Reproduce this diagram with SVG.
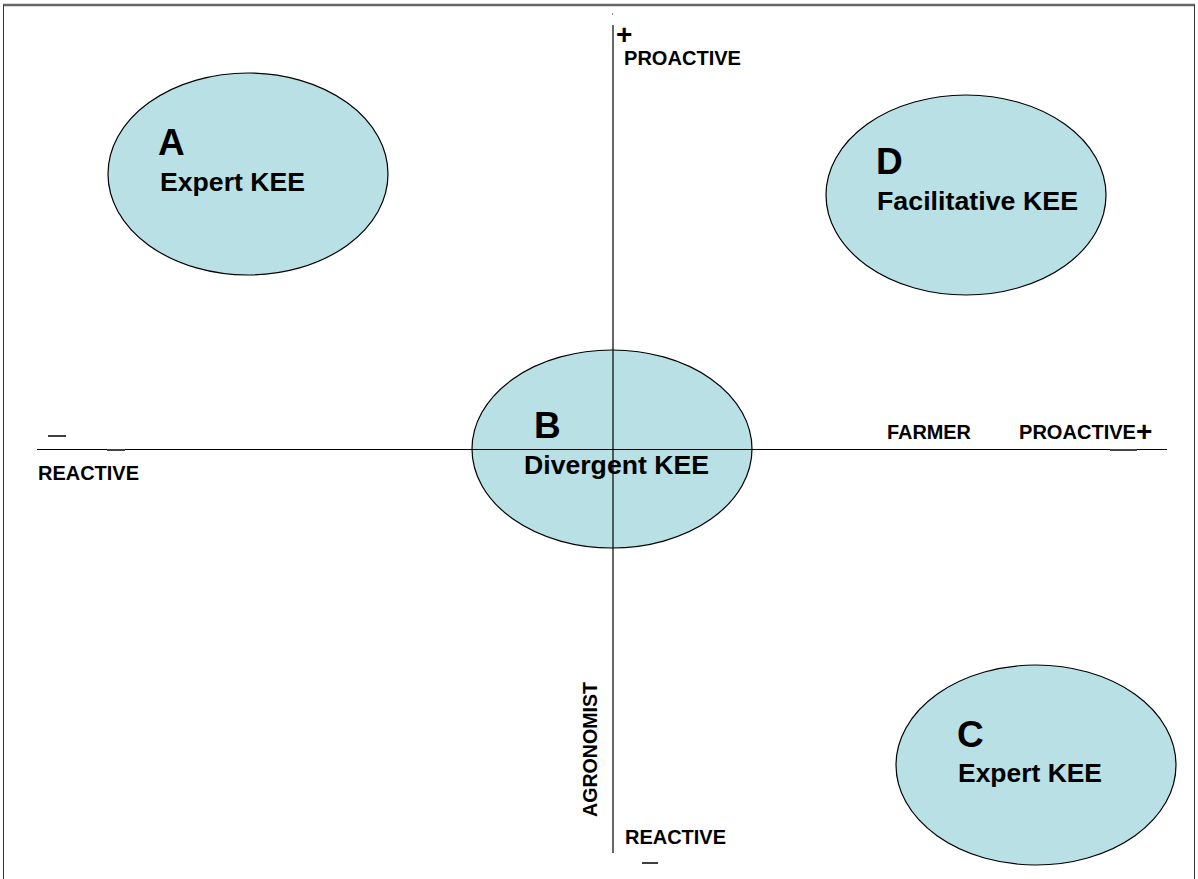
<svg xmlns="http://www.w3.org/2000/svg" width="1198" height="879" viewBox="0 0 1198 879">
<style>
.node{fill:#b9e0e4;stroke:#000;stroke-width:1.2}
.big{font-family:"Liberation Sans",Arial,sans-serif;font-weight:bold;font-size:37px;fill:#000}
.lab{font-family:"Liberation Sans",Arial,sans-serif;font-weight:bold;font-size:25px;fill:#000}
.ax{font-family:"Liberation Sans",Arial,sans-serif;font-weight:bold;font-size:19.5px;fill:#000}
.pl{font-family:"Liberation Sans",Arial,sans-serif;font-weight:bold;font-size:28px;fill:#000}
</style>
<rect width="1198" height="879" fill="#fff"/>
<g id="frame" fill="none">
<line x1="3" y1="5" x2="1195" y2="5" stroke="#666" stroke-width="2.5"/>
<line x1="3.5" y1="5" x2="3.5" y2="879" stroke="#333" stroke-width="1"/>
<line x1="1194.5" y1="5" x2="1194.5" y2="879" stroke="#333" stroke-width="1"/>
<rect x="612" y="13" width="1" height="2" fill="#888"/>
</g>
<g id="B"><ellipse class="node" cx="612" cy="449" rx="140" ry="99"/></g>
<g id="connectors" stroke="#000" stroke-width="1.2">
<line x1="613" y1="25" x2="613" y2="853"/>
<line x1="37" y1="449.5" x2="1167" y2="449.5"/>
<line x1="107" y1="450" x2="125" y2="450" stroke="#444" stroke-width="2"/>
<line x1="1110" y1="450" x2="1137" y2="450" stroke="#444" stroke-width="2"/>
</g>
<g id="A"><ellipse class="node" cx="248" cy="174" rx="140" ry="101"/>
<text class="big" x="158" y="155">A</text><text class="lab" x="160" y="191" textLength="145" lengthAdjust="spacingAndGlyphs">Expert KEE</text></g>
<g id="D"><ellipse class="node" cx="966" cy="195" rx="140" ry="100"/>
<text class="big" x="876" y="174">D</text><text class="lab" x="877" y="210" textLength="201" lengthAdjust="spacingAndGlyphs">Facilitative KEE</text></g>
<g id="Btext"><text class="big" x="534" y="438">B</text><text class="lab" x="524" y="474" textLength="185" lengthAdjust="spacingAndGlyphs">Divergent KEE</text></g>
<g id="C"><ellipse class="node" cx="1036" cy="765" rx="140" ry="100"/>
<text class="big" x="957" y="747">C</text><text class="lab" x="958" y="782" textLength="144" lengthAdjust="spacingAndGlyphs">Expert KEE</text></g>
<g id="labels">
<text class="pl" x="616" y="44">+</text>
<text class="ax" x="624" y="65" textLength="117" lengthAdjust="spacingAndGlyphs">PROACTIVE</text>
<line x1="48" y1="436" x2="66" y2="436" stroke="#000" stroke-width="1.5"/>
<text class="ax" x="38" y="480" textLength="101" lengthAdjust="spacingAndGlyphs">REACTIVE</text>
<text class="ax" x="887" y="439" textLength="84" lengthAdjust="spacingAndGlyphs">FARMER</text>
<text class="ax" x="1019" y="439" textLength="117" lengthAdjust="spacingAndGlyphs">PROACTIVE</text>
<text class="pl" x="1136" y="441">+</text>
<text class="ax" transform="translate(597,817) rotate(-90)" x="0" y="0" textLength="135" lengthAdjust="spacingAndGlyphs">AGRONOMIST</text>
<text class="ax" x="625" y="844" textLength="101" lengthAdjust="spacingAndGlyphs">REACTIVE</text>
<line x1="642" y1="863" x2="658" y2="863" stroke="#000" stroke-width="1.5"/>
</g>
</svg>
